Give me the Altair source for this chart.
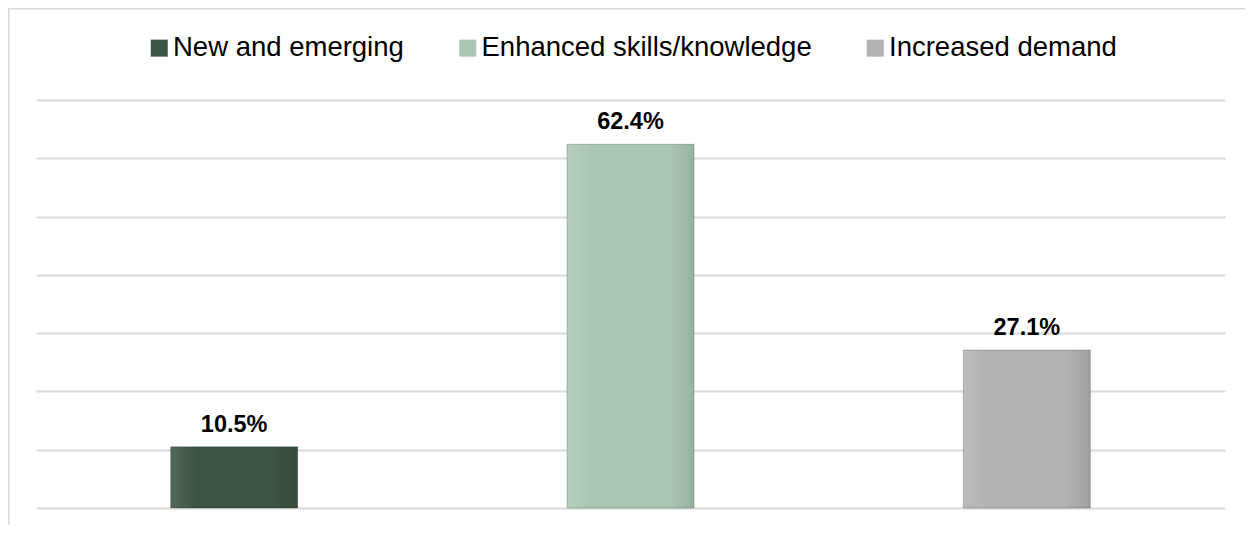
import altair as alt
import pandas as pd

categories = ["New and emerging", "Enhanced skills/knowledge", "Increased demand"]
values = [10.5, 62.4, 27.1]
colors = ["#3c5443", "#aac7b5", "#b3b3b3"]
grid_values = [0, 10, 20, 30, 40, 50, 60, 70]

df = pd.DataFrame({"category": categories, "value": values})

FONT = "Liberation Sans"
W, H = 1189, 408
PAD = {"left": 28, "top": 92, "right": 20, "bottom": 17}

x_enc = alt.X("category:N", sort=categories, axis=None,
              scale=alt.Scale(paddingInner=0, paddingOuter=0))
y_enc = alt.Y("value:Q",
              scale=alt.Scale(domain=[0, 70], nice=False, zero=True),
              axis=alt.Axis(values=grid_values, labels=False, ticks=False,
                            domain=False, grid=True, gridColor="#d9d9d9",
                            gridWidth=2, title=None))
x_plain = alt.X("category:N", sort=categories, axis=None)

color_enc = alt.Color("category:N", sort=categories,
                      scale=alt.Scale(domain=categories, range=colors),
                      legend=alt.Legend(title=None, orient="none",
                                        legendX=109.5, legendY=-66,
                                        direction="horizontal",
                                        symbolType="square", symbolSize=289,
                                        symbolStrokeWidth=0, symbolOpacity=1,
                                        labelFont=FONT, labelFontSize=27.5,
                                        labelColor="#000000", labelOffset=0,
                                        columnPadding=49.5, padding=0,
                                        labelLimit=600))

base = alt.Chart(df)

bars = base.mark_bar(size=127, stroke="rgba(0,0,0,0.22)", strokeWidth=1).encode(
    x=x_enc, y=y_enc, color=color_enc)

bevel = base.mark_bar(
    size=127,
    color=alt.Gradient(
        gradient="linear",
        stops=[
            alt.GradientStop(color="rgba(255,255,255,0.12)", offset=0),
            alt.GradientStop(color="rgba(255,255,255,0.04)", offset=0.13),
            alt.GradientStop(color="rgba(255,255,255,0.0)", offset=0.2),
            alt.GradientStop(color="rgba(0,0,0,0.0)", offset=0.8),
            alt.GradientStop(color="rgba(0,0,0,0.04)", offset=0.87),
            alt.GradientStop(color="rgba(0,0,0,0.10)", offset=1),
        ],
        x1=0, x2=1, y1=0, y2=0,
    ),
).encode(x=x_plain, y="value:Q")

labels = base.transform_calculate(
    label="format(datum.value, '.1f') + '%'"
).mark_text(font=FONT, fontSize=23.5, fontWeight="bold", color="#000000",
            baseline="alphabetic", dy=-15).encode(
    x=x_plain, y="value:Q", text="label:N")

frame_df = pd.DataFrame({"k": [0]})
frame_left = alt.Chart(frame_df).mark_rule(color="#d9d9d9", strokeWidth=2).encode(
    x=alt.value(-27.5), y=alt.value(-91.5), y2=alt.value(H + PAD["bottom"]))
frame_top = alt.Chart(frame_df).mark_rule(color="#d9d9d9", strokeWidth=2).encode(
    x=alt.value(-28), x2=alt.value(W + PAD["right"]), y=alt.value(-91.5))

chart = alt.layer(bars, bevel, labels, frame_left, frame_top).properties(
    width=W, height=H,
    autosize=alt.AutoSizeParams(type="none"),
    padding=PAD,
).configure(background="#ffffff", view=alt.ViewConfig(stroke=None))

chart.save("out.html", embed_options={"renderer": "svg", "actions": False})
